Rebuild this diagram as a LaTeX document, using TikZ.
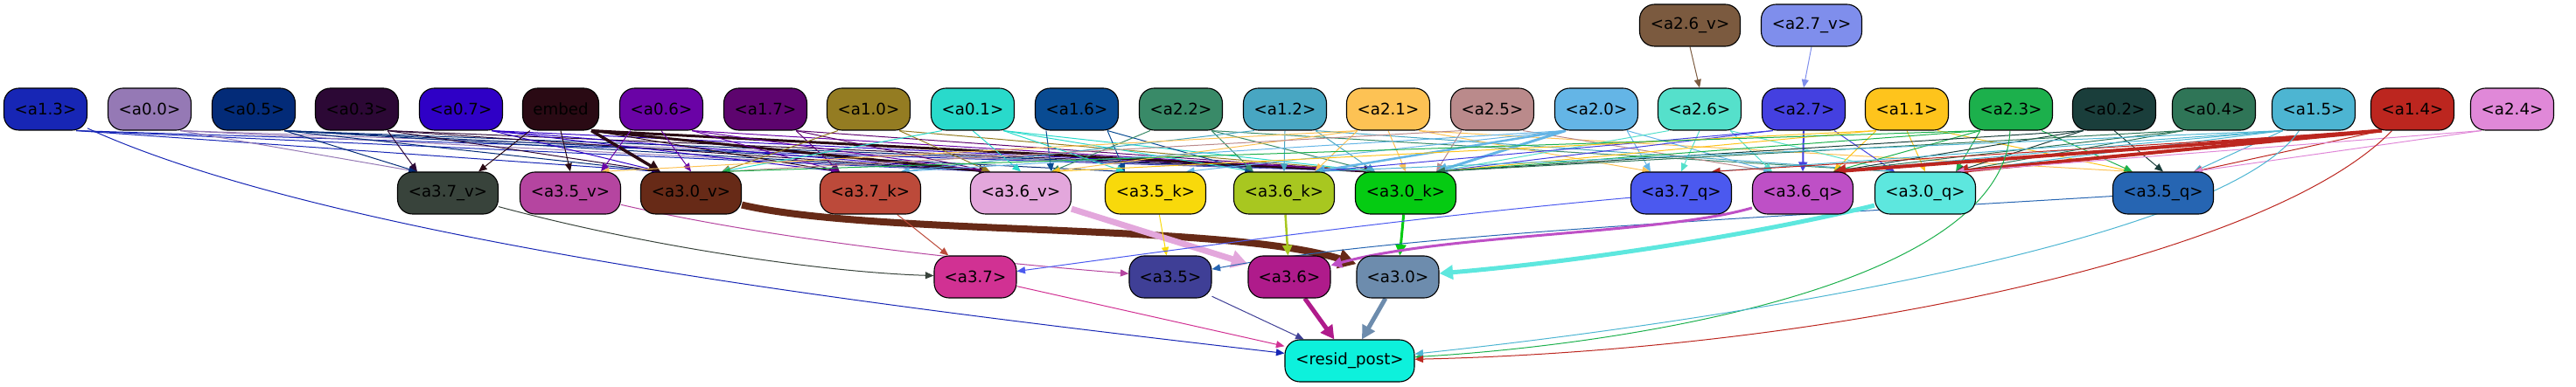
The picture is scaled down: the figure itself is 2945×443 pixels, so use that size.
\documentclass[tikz,border=0pt]{standalone}
\usepackage{fontspec}
\setmainfont{DejaVu Sans}
\usetikzlibrary{arrows.meta,backgrounds}
\definecolor{c13}{HTML}{1726B5}\definecolor{c00}{HTML}{9579B5}\definecolor{c05}{HTML}{032B78}
\definecolor{c03}{HTML}{2C0835}\definecolor{c07}{HTML}{2F00C6}\definecolor{cemb}{HTML}{2A0A14}
\definecolor{c06}{HTML}{6A03A6}\definecolor{c17}{HTML}{5D046E}\definecolor{c10}{HTML}{947C22}
\definecolor{c01}{HTML}{29DACB}\definecolor{c16}{HTML}{094B92}\definecolor{c22}{HTML}{398A68}
\definecolor{c12}{HTML}{48A6C2}\definecolor{c21}{HTML}{FDC254}\definecolor{c25}{HTML}{BA8A8B}
\definecolor{c20}{HTML}{64B5E6}\definecolor{c26}{HTML}{55E0CB}\definecolor{c27}{HTML}{4440E0}
\definecolor{c11}{HTML}{FEC41C}\definecolor{c23}{HTML}{1CB04C}\definecolor{c02}{HTML}{1A3E3B}
\definecolor{c04}{HTML}{2F7557}\definecolor{c15}{HTML}{4DB5D2}\definecolor{c14}{HTML}{BC261F}
\definecolor{c24}{HTML}{E088D8}\definecolor{c26v}{HTML}{7B5A3F}\definecolor{c27v}{HTML}{7F8EEC}
\definecolor{c37v}{HTML}{38433B}\definecolor{c35v}{HTML}{B545A0}\definecolor{c30v}{HTML}{672A17}
\definecolor{c37k}{HTML}{BC4A3A}\definecolor{c36v}{HTML}{E3A7DC}\definecolor{c35k}{HTML}{F8D90B}
\definecolor{c36k}{HTML}{A8C720}\definecolor{c30k}{HTML}{05CB12}\definecolor{c37q}{HTML}{4B59EF}
\definecolor{c36q}{HTML}{BE50C6}\definecolor{c30q}{HTML}{5DE7DE}\definecolor{c35q}{HTML}{2665B2}
\definecolor{c37}{HTML}{D13193}\definecolor{c35}{HTML}{3F3F96}\definecolor{c36}{HTML}{AF1B8B}
\definecolor{c30}{HTML}{6D8CAD}\definecolor{cres}{HTML}{0DF1DC}
\newcommand\myR[4][]{\draw[ed=#4,#1] (#2.-35) -- (#3.145);}
\newcommand\myL[4][]{\draw[ed=#4,#1] (#2.-145) -- (#3.35);}
\newcommand\myD[4][]{\draw[ed=#4,#1] (#2.south) -- (#3.north);}
\begin{document}
\begin{tikzpicture}[x=1pt,y=1pt,
  nd/.style={draw=black, line width=1.1pt, rounded corners=17pt, minimum width=95pt, minimum height=48pt, inner sep=0pt, font=\fontsize{18.2}{22}\selectfont, text=black},
  nw/.style={nd, minimum width=115pt},
  ed/.style={draw=#1, line width=1pt, -{Triangle[length=8pt 1.5, width=6pt 2]}}]
\useasboundingbox (0,0) rectangle (2945,-443);
% row 0
\node[nw, fill=c26v] (n26v) at (1932,-29) {<a2.6\_v>};
\node[nw, fill=c27v] (n27v) at (2071,-29) {<a2.7\_v>};
% row 1
\node[nd, fill=c13] (n13) at (52,-125) {<a1.3>};
\node[nd, fill=c00] (n00) at (171,-125) {<a0.0>};
\node[nd, fill=c05] (n05) at (290,-125) {<a0.5>};
\node[nd, fill=c03] (n03) at (408,-125) {<a0.3>};
\node[nd, fill=c07] (n07) at (527,-125) {<a0.7>};
\node[nd, fill=cemb, minimum width=87pt] (nemb) at (641,-125) {embed};
\node[nd, fill=c06] (n06) at (756,-125) {<a0.6>};
\node[nd, fill=c17] (n17) at (875,-125) {<a1.7>};
\node[nd, fill=c10] (n10) at (993,-125) {<a1.0>};
\node[nd, fill=c01] (n01) at (1112,-125) {<a0.1>};
\node[nd, fill=c16] (n16) at (1231,-125) {<a1.6>};
\node[nd, fill=c22] (n22) at (1350,-125) {<a2.2>};
\node[nd, fill=c12] (n12) at (1469,-125) {<a1.2>};
\node[nd, fill=c21] (n21) at (1587,-125) {<a2.1>};
\node[nd, fill=c25] (n25) at (1706,-125) {<a2.5>};
\node[nd, fill=c20] (n20) at (1825,-125) {<a2.0>};
\node[nd, fill=c26] (n26) at (1943,-125) {<a2.6>};
\node[nd, fill=c27] (n27) at (2062,-125) {<a2.7>};
\node[nd, fill=c11] (n11) at (2180,-125) {<a1.1>};
\node[nd, fill=c23] (n23) at (2299,-125) {<a2.3>};
\node[nd, fill=c02] (n02) at (2417,-125) {<a0.2>};
\node[nd, fill=c04] (n04) at (2531,-125) {<a0.4>};
\node[nd, fill=c15] (n15) at (2645,-125) {<a1.5>};
\node[nd, fill=c14] (n14) at (2758,-125) {<a1.4>};
\node[nd, fill=c24] (n24) at (2872,-125) {<a2.4>};
% row 2
\node[nw, fill=c37v] (v37) at (512,-221) {<a3.7\_v>};
\node[nw, fill=c35v] (v35) at (652,-221) {<a3.5\_v>};
\node[nw, fill=c30v] (v30) at (790,-221) {<a3.0\_v>};
\node[nw, fill=c37k] (k37) at (995,-221) {<a3.7\_k>};
\node[nw, fill=c36v] (v36) at (1167,-221) {<a3.6\_v>};
\node[nw, fill=c35k] (k35) at (1321,-221) {<a3.5\_k>};
\node[nw, fill=c36k] (k36) at (1468,-221) {<a3.6\_k>};
\node[nw, fill=c30k] (k30) at (1607,-221) {<a3.0\_k>};
\node[nw, fill=c37q] (q37) at (1922,-221) {<a3.7\_q>};
\node[nw, fill=c36q] (q36) at (2061,-221) {<a3.6\_q>};
\node[nw, fill=c30q] (q30) at (2201,-221) {<a3.0\_q>};
\node[nw, fill=c35q] (q35) at (2473,-221) {<a3.5\_q>};
% row 3
\node[nd, fill=c37, minimum width=94pt] (o37) at (1115,-317) {<a3.7>};
\node[nd, fill=c35, minimum width=94pt] (o35) at (1338,-317) {<a3.5>};
\node[nd, fill=c36, minimum width=94pt] (o36) at (1474,-317) {<a3.6>};
\node[nd, fill=c30, minimum width=94pt] (o30) at (1598,-317) {<a3.0>};
% row 4
\node[nd, fill=cres, minimum width=148pt] (res) at (1543,-413) {<resid\_post>};
\begin{scope}[on background layer]
% row 0 -> row 1
\myD{n26v}{n26}{c26v}
\myD{n27v}{n27}{c27v}
% row 1 -> row 2
\myR{n13}{v30}{c13}\myR{n13}{v36}{c13}\myR{n13}{k30}{c13}
\myR{n00}{v37}{c00}\myR{n00}{v36}{c00}\myR{n00}{k30}{c00}
\myR{n05}{v37}{c05}\myR{n05}{v30}{c05}\myR{n05}{v36}{c05}\myR{n05}{k35}{c05}\myR{n05}{k30}{c05}
\myR{n03}{v37}{c03}\myR{n03}{v30}{c03}\myR{n03}{v36}{c03}\myR{n03}{k30}{c03}
\myR{n07}{v30}{c07}\myR{n07}{k37}{c07}\myR{n07}{v36}{c07}\myR{n07}{k30}{c07}
\myL{nemb}{v37}{cemb}\myD{nemb}{v35}{cemb}\myR[line width=3.5pt]{nemb}{v30}{cemb}\myR{nemb}{k37}{cemb}
\myR[line width=3pt]{nemb}{v36}{cemb}\myR[line width=3pt]{nemb}{k30}{cemb}
\myL{n06}{v35}{c06}\myD{n06}{v30}{c06}\myR{n06}{k37}{c06}\myR{n06}{v36}{c06}\myR{n06}{k30}{c06}
\myR{n17}{k37}{c17}\myR{n17}{v36}{c17}\myR{n17}{k30}{c17}
\myL{n10}{v30}{c10}\myR{n10}{v36}{c10}\myR{n10}{k30}{c10}
\myL{n01}{v30}{c01}\myD{n01}{v36}{c01}\myR{n01}{k35}{c01}\myR{n01}{k36}{c01}\myR{n01}{k30}{c01}
\myL{n16}{v36}{c16}\myR{n16}{k35}{c16}\myR{n16}{k36}{c16}
\myL{n22}{v36}{c22}\myR{n22}{k36}{c22}\myR{n22}{k30}{c22}\myR{n22}{q30}{c22}
\myL{n12}{k37}{c12}\myD{n12}{k36}{c12}\myR{n12}{k30}{c12}\myR{n12}{q30}{c12}
\myL{n21}{v35}{c21}\myL{n21}{v36}{c21}\myL{n21}{k36}{c21}\myD{n21}{k30}{c21}\myR{n21}{q37}{c21}\myR{n21}{q35}{c21}
\myL{n25}{v30}{c25}\myL{n25}{k30}{c25}\myR{n25}{q36}{c25}
\myL{n20}{k37}{c20}\myL{n20}{k35}{c20}\myL[line width=2.5pt]{n20}{k36}{c20}\myL[line width=3pt]{n20}{k30}{c20}\myR{n20}{q37}{c20}\myR{n20}{q36}{c20}
\myL{n26}{k30}{c26}\myD{n26}{q37}{c26}\myR{n26}{q36}{c26}\myR{n26}{q30}{c26}
\myL{n27}{k30}{c27}\myD[line width=2pt]{n27}{q36}{c27}\myR{n27}{q30}{c27}\myL{n27}{k36}{c27}
\myL{n11}{v36}{c11}\myL{n11}{k30}{c11}\myL{n11}{q36}{c11}\myD{n11}{q30}{c11}\myR{n11}{q35}{c11}
\myL{n23}{v30}{c23}\myL{n23}{k30}{c23}\myL{n23}{q36}{c23}\myL{n23}{q30}{c23}\myR{n23}{q35}{c23}
\myL{n02}{k30}{c02}\myL{n02}{q36}{c02}\myL{n02}{q30}{c02}\myD{n02}{q35}{c02}
\myL{n04}{k30}{c04}\myL{n04}{q36}{c04}\myL{n04}{q30}{c04}
\myL{n15}{k36}{c15}\myL{n15}{q37}{c15}\myL{n15}{q36}{c15}\myL{n15}{q30}{c15}\myL{n15}{q35}{c15}
\myL{n14}{q37}{c14}\myL[line width=4pt]{n14}{q36}{c14}\myL[line width=4pt]{n14}{q30}{c14}\myL{n14}{q35}{c14}
\myL{n24}{q30}{c24}\myL{n24}{q35}{c24}
% row 2 -> row 3
\draw[ed=c37v] (v37) .. controls (750,-285) and (950,-312) .. (o37);
\draw[ed=c35v] (v35) .. controls (900,-278) and (1150,-302) .. (o35);
\draw[ed=c30v, line width=8pt] (v30) .. controls (1000,-270) and (1400,-255) .. (o30);
\draw[ed=c37k] (k37) -- (o37);
\draw[ed=c36v, line width=7pt] (v36) -- (o36);
\draw[ed=c35k] (k35) -- (o35);
\draw[ed=c36k, line width=2.5pt] (k36) -- (o36);
\draw[ed=c30k, line width=3pt] (k30) -- (o30);
\draw[ed=c37q] (q37) .. controls (1600,-250) and (1350,-285) .. (o37);
\draw[ed=c35q] (q35) .. controls (2000,-250) and (1600,-268) .. (o35);
\draw[ed=c36q, line width=3pt] (q36) .. controls (1900,-268) and (1650,-268) .. (o36);
\draw[ed=c30q, line width=5pt] (q30) .. controls (2000,-270) and (1800,-300) .. (o30);
% row 3 -> resid_post
\draw[ed=c37] (o37) -- (res);
\draw[ed=c35] (o35) -- (res);
\draw[ed=c36, line width=5pt] (o36) -- (res);
\draw[ed=c30, line width=5pt] (o30) -- (res);
\draw[ed=c13] (n13) .. controls (380,-275) and (1000,-350) .. (res);
\draw[ed=c23] (n23) .. controls (2290,-330) and (1850,-395) .. (res);
\draw[ed=c15] (n15) .. controls (2540,-280) and (1950,-370) .. (res);
\draw[ed=c14] (n14) .. controls (2600,-290) and (2100,-400) .. (res);
\end{scope}
\end{tikzpicture}
\end{document}
